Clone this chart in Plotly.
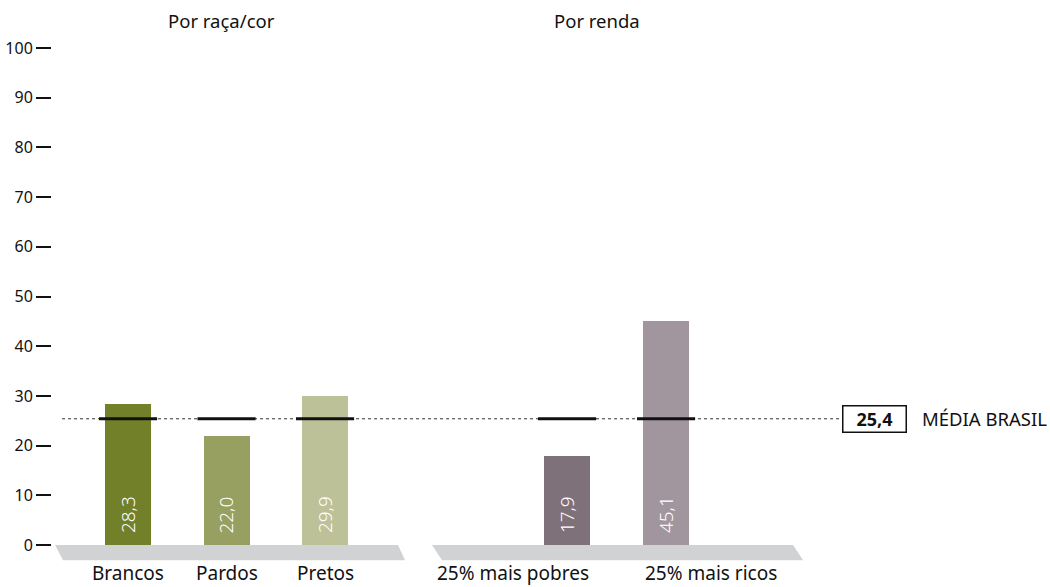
import plotly.graph_objects as go

# ---- data ----
categories = ["Brancos", "Pardos", "Pretos", "25% mais pobres", "25% mais ricos"]
values = [28.3, 22.0, 29.9, 17.9, 45.1]
value_labels = ["28,3", "22,0", "29,9", "17,9", "45,1"]
bar_colors = ["#72802a", "#97a060", "#bcc197", "#7f7179", "#a1969e"]
group_titles = ["Por raça/cor", "Por renda"]
media_brasil = 25.4
media_label = "25,4"
media_text = "MÉDIA BRASIL"
y_ticks = [0, 10, 20, 30, 40, 50, 60, 70, 80, 90, 100]

# ---- layout positions (axis units) ----
bar_pos = [0, 1, 2, 4.457, 5.462]
label_pos = [0, 1, 2, 3.91, 5.92]
title_pos = [0.944, 4.76]
bar_width = 0.467
mark_half = 0.295

FONT = "Noto Sans"
INK = "#111111"

fig = go.Figure()
fig.add_trace(go.Bar(
    x=bar_pos, y=values, width=bar_width,
    marker=dict(color=bar_colors, line=dict(width=0)),
    hoverinfo="skip", showlegend=False,
))

shapes = []
platforms = [(-0.741, 2.741, -0.66, 2.812), (3.086, 6.751, 3.188, 6.853)]
for tl, tr, bl, br in platforms:
    shapes.append(dict(type="path", xref="x", yref="y",
                       path=f"M {tl},0 L {tr},0 L {br},-3.05 L {bl},-3.05 Z",
                       fillcolor="#d1d2d4", line=dict(width=0), layer="below"))
shapes.append(dict(type="line", xref="x", yref="y", x0=-0.67, x1=7.26,
                   y0=media_brasil, y1=media_brasil,
                   line=dict(color="#333333", width=1, dash="dot")))
for p in bar_pos:
    shapes.append(dict(type="line", xref="x", yref="y", x0=p - mark_half, x1=p + mark_half,
                       y0=media_brasil, y1=media_brasil,
                       line=dict(color=INK, width=3)))

annotations = []
for lab, p, v in zip(value_labels, bar_pos, values):
    annotations.append(dict(x=p, y=1.9, xref="x", yref="y", text=lab, showarrow=False,
                            textangle=-90,
                            font=dict(family=FONT, size=19, color="white", weight=300),
                            xanchor="center", yanchor="bottom"))
for lab, p in zip(categories, label_pos):
    annotations.append(dict(x=p, y=0, xref="x", yref="paper", text=lab, showarrow=False,
                            font=dict(family=FONT, size=19, color=INK),
                            borderpad=0, xanchor="center", yanchor="bottom"))
for t, p in zip(group_titles, title_pos):
    annotations.append(dict(x=p, y=105.6, xref="x", yref="y", text=t, showarrow=False,
                            font=dict(family=FONT, size=18.5, color=INK),
                            xanchor="center", yanchor="middle"))
annotations.append(dict(x=7.58, y=media_brasil, xref="x", yref="y",
                        text=f"<b>{media_label}</b>", showarrow=False,
                        font=dict(family=FONT, size=18, color=INK),
                        bordercolor=INK, borderwidth=1.5, borderpad=1,
                        bgcolor="white", width=60, height=23,
                        xanchor="center", yanchor="middle"))
annotations.append(dict(x=8.04, y=media_brasil, xref="x", yref="y", text=media_text,
                        showarrow=False, font=dict(family=FONT, size=18.5, color=INK),
                        xanchor="left", yanchor="middle"))

fig.update_layout(
    width=1050, height=587,
    margin=dict(l=52, r=0, t=8, b=0),
    paper_bgcolor="white", plot_bgcolor="white",
    bargap=0,
    shapes=shapes, annotations=annotations,
    xaxis=dict(range=[-0.772, 9.36], visible=False, fixedrange=True),
    yaxis=dict(range=[-8.45, 108.05], tickvals=y_ticks,
               ticks="outside", ticklen=15, tickwidth=1.5, tickcolor=INK,
               showgrid=False, zeroline=False, showline=False,
               tickfont=dict(family=FONT, size=16, color=INK), fixedrange=True),
    showlegend=False,
)

fig.write_html("out.html")
